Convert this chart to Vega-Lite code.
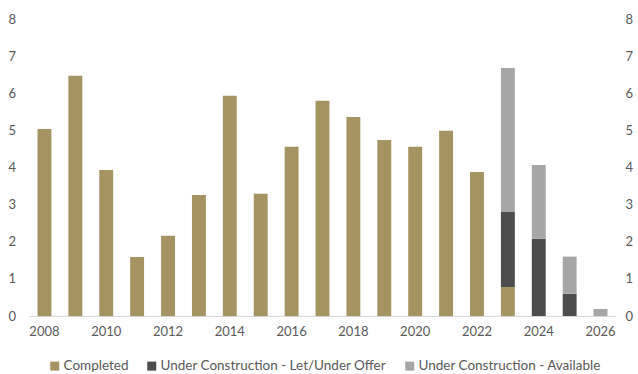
{
  "$schema": "https://vega.github.io/schema/vega-lite/v6.json",
  "autosize": {"type": "none"},
  "width": 587,
  "height": 297,
  "padding": {"left": 29, "top": 19, "right": 22, "bottom": 58},
  "background": "white",
  "config": {
    "view": {"stroke": null},
    "font": "Lato",
    "axis": {"labelFont": "Lato", "labelFontSize": 13, "labelColor": "#595959", "grid": false, "ticks": false, "labelOverlap": false}
  },
  "data": {"values": [
    {"year": "2008", "series": "Completed", "value": 5.04},
    {"year": "2009", "series": "Completed", "value": 6.47},
    {"year": "2010", "series": "Completed", "value": 3.93},
    {"year": "2011", "series": "Completed", "value": 1.59},
    {"year": "2012", "series": "Completed", "value": 2.16},
    {"year": "2013", "series": "Completed", "value": 3.26},
    {"year": "2014", "series": "Completed", "value": 5.93},
    {"year": "2015", "series": "Completed", "value": 3.29},
    {"year": "2016", "series": "Completed", "value": 4.56},
    {"year": "2017", "series": "Completed", "value": 5.8},
    {"year": "2018", "series": "Completed", "value": 5.36},
    {"year": "2019", "series": "Completed", "value": 4.74},
    {"year": "2020", "series": "Completed", "value": 4.56},
    {"year": "2021", "series": "Completed", "value": 4.99},
    {"year": "2022", "series": "Completed", "value": 3.88},
    {"year": "2023", "series": "Completed", "value": 0.78},
    {"year": "2023", "series": "Under Construction - Let/Under Offer", "value": 2.02},
    {"year": "2023", "series": "Under Construction - Available", "value": 3.88},
    {"year": "2024", "series": "Under Construction - Let/Under Offer", "value": 2.08},
    {"year": "2024", "series": "Under Construction - Available", "value": 1.99},
    {"year": "2025", "series": "Under Construction - Let/Under Offer", "value": 0.6},
    {"year": "2025", "series": "Under Construction - Available", "value": 1.0},
    {"year": "2026", "series": "Under Construction - Available", "value": 0.19}
  ]},
  "transform": [
    {"calculate": "indexof(['Completed','Under Construction - Let/Under Offer','Under Construction - Available'], datum.series)", "as": "stackOrder"}
  ],
  "layer": [
    {
      "mark": {"type": "bar"},
      "encoding": {
        "x": {
          "field": "year", "type": "ordinal",
          "scale": {"domain": ["2008","2009","2010","2011","2012","2013","2014","2015","2016","2017","2018","2019","2020","2021","2022","2023","2024","2025","2026"], "paddingInner": 0.55, "paddingOuter": 0.275},
          "axis": {"title": null, "labelAngle": 0, "labelExpr": "toNumber(datum.value) % 2 == 0 ? datum.label : ''", "domainColor": "#D9D9D9", "domainWidth": 1, "labelPadding": 9}
        },
        "y": {
          "field": "value", "type": "quantitative", "stack": "zero",
          "scale": {"domain": [0, 8], "nice": false},
          "axis": {"title": null, "orient": "left", "domain": false, "values": [0,1,2,3,4,5,6,7,8], "labelPadding": 21, "labelAlign": "left", "labelFlush": false}
        },
        "color": {
          "field": "series", "type": "nominal",
          "scale": {"domain": ["Completed", "Under Construction - Let/Under Offer", "Under Construction - Available"], "range": ["#A59461", "#4D4D4D", "#A6A6A6"]},
          "legend": {"title": null, "orient": "none", "direction": "horizontal", "legendX": 19, "legendY": 340, "symbolType": "square", "symbolSize": 81, "symbolStrokeWidth": 0, "labelFont": "Lato", "labelFontSize": 13.5, "labelColor": "#595959", "labelOffset": 2, "labelLimit": 0, "columnPadding": 16}
        },
        "order": {"field": "stackOrder", "type": "quantitative"}
      }
    },
    {
      "mark": {"type": "bar", "opacity": 0},
      "encoding": {
        "x": {"field": "year", "type": "ordinal"},
        "y": {
          "field": "value", "type": "quantitative", "stack": "zero",
          "axis": {"title": null, "orient": "right", "domain": false, "values": [0,1,2,3,4,5,6,7,8], "labelPadding": 9, "labelFlush": false}
        },
        "order": {"field": "stackOrder", "type": "quantitative"}
      }
    }
  ],
  "resolve": {"axis": {"y": "independent"}}
}
